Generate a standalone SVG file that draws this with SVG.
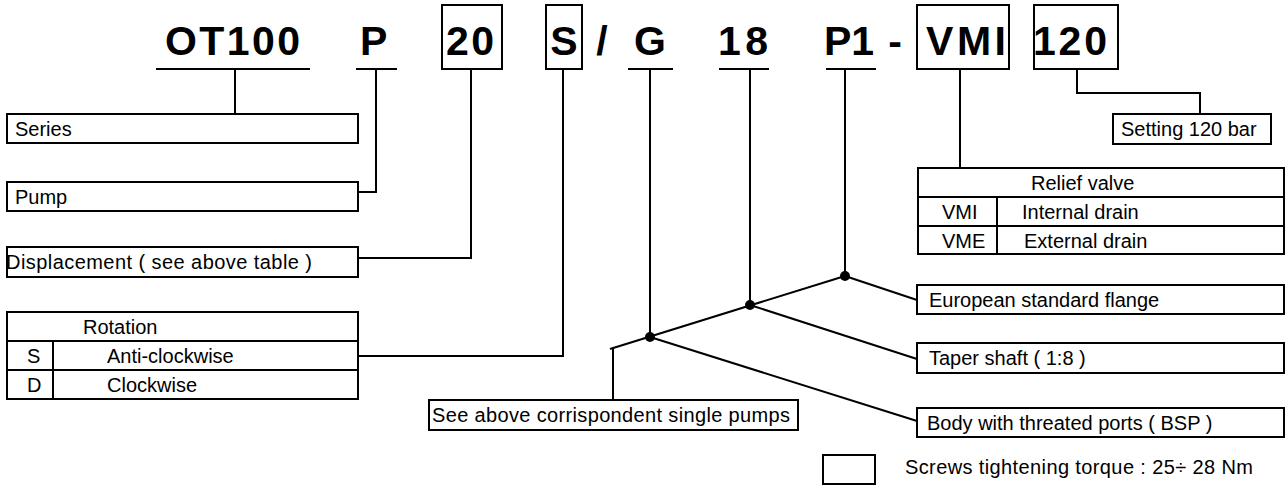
<svg xmlns="http://www.w3.org/2000/svg" width="1287" height="486" viewBox="0 0 1287 486">
<style>
.b{fill:#fff;stroke:#000;stroke-width:2}
.l{fill:none;stroke:#000;stroke-width:2}
.code{font-family:"Liberation Sans",Arial,sans-serif;font-weight:bold;font-size:41px;fill:#000}
.t{font-family:"Liberation Sans",Arial,sans-serif;font-size:20px;fill:#000}
.dot{fill:#000}
</style>
<rect width="1287" height="486" fill="#fff"/>
<g id="code">
<text class="code" x="165" y="55" textLength="135" lengthAdjust="spacing">OT100</text>
<text class="code" x="360" y="55">P</text>
<rect class="b" x="442" y="5" width="60" height="64"/>
<text class="code" x="446" y="55" textLength="48" lengthAdjust="spacing">20</text>
<rect class="b" x="546" y="5" width="36" height="64"/>
<text class="code" x="564" y="55" text-anchor="middle">S</text>
<text class="code" x="602" y="55" text-anchor="middle">/</text>
<text class="code" x="650" y="55" text-anchor="middle">G</text>
<text class="code" x="718" y="55" textLength="50" lengthAdjust="spacing">18</text>
<text class="code" x="824" y="55">P1</text>
<text class="code" x="895" y="55" text-anchor="middle">-</text>
<rect class="b" x="917" y="5" width="92" height="64"/>
<text class="code" x="926" y="55" textLength="80" lengthAdjust="spacing">VMI</text>
<rect class="b" x="1034" y="5" width="84" height="64"/>
<text class="code" x="1033" y="55" textLength="74" lengthAdjust="spacing">120</text>
</g>
<g id="connectors">
<path class="l" d="M156,69 H310 M356,69 H397 M628,69 H673 M719,69 H769 M826,69 H876"/>
<path class="l" d="M235,69 V114"/>
<path class="l" d="M376,69 V192 H358"/>
<path class="l" d="M471,69 V258 H358"/>
<path class="l" d="M563,69 V356 H358"/>
<path class="l" d="M650,69 V337"/>
<path class="l" d="M750,69 V305"/>
<path class="l" d="M845,69 V276"/>
<path class="l" d="M960,69 V168"/>
<path class="l" d="M1077,69 V93 H1200 V114"/>
<path class="l" d="M610,349 L845,276"/>
<path class="l" d="M613,349 V400"/>
<path class="l" d="M845,276 L917,300 M750,305 L917,359 M650,337 L917,421"/>
<circle class="dot" cx="650" cy="337" r="5"/>
<circle class="dot" cx="750" cy="305" r="5"/>
<circle class="dot" cx="845" cy="276" r="5"/>
</g>
<g id="series">
<rect class="b" x="7" y="114" width="351" height="29"/>
<text class="t" x="15" y="136">Series</text>
</g>
<g id="pump">
<rect class="b" x="7" y="182" width="351" height="29"/>
<text class="t" x="15" y="204">Pump</text>
</g>
<g id="displacement">
<rect class="b" x="7" y="247" width="351" height="30"/>
<text class="t" x="6" y="269" textLength="306" lengthAdjust="spacing">Displacement ( see above table )</text>
</g>
<g id="rotation">
<rect class="b" x="7" y="312" width="351" height="87"/>
<path class="l" d="M7,341 H358 M7,370 H358 M53,341 V399"/>
<text class="t" x="83" y="334">Rotation</text>
<text class="t" x="27" y="363">S</text>
<text class="t" x="107" y="363">Anti-clockwise</text>
<text class="t" x="27" y="392">D</text>
<text class="t" x="107" y="392">Clockwise</text>
</g>
<g id="setting">
<rect class="b" x="1113" y="114" width="158" height="30"/>
<text class="t" x="1121" y="136">Setting 120 bar</text>
</g>
<g id="relief">
<rect class="b" x="918" y="168" width="366" height="86"/>
<path class="l" d="M918,197 H1284 M918,226 H1284 M997,197 V254"/>
<text class="t" x="1031" y="190">Relief valve</text>
<text class="t" x="942" y="219">VMI</text>
<text class="t" x="1022" y="219">Internal drain</text>
<text class="t" x="942" y="248">VME</text>
<text class="t" x="1024" y="248">External drain</text>
</g>
<g id="flange">
<rect class="b" x="917" y="285" width="367" height="29"/>
<text class="t" x="929" y="307">European standard flange</text>
</g>
<g id="shaft">
<rect class="b" x="917" y="343" width="367" height="30"/>
<text class="t" x="929" y="365">Taper shaft ( 1:8 )</text>
</g>
<g id="body">
<rect class="b" x="917" y="408" width="367" height="29"/>
<text class="t" x="927" y="430">Body with threated ports ( BSP )</text>
</g>
<g id="single">
<rect class="b" x="429" y="400" width="369" height="30"/>
<text class="t" x="432" y="422" textLength="358" lengthAdjust="spacing">See above corrispondent single pumps</text>
</g>
<g id="torque">
<rect class="b" x="823" y="455" width="52" height="29"/>
<text class="t" x="905" y="474" textLength="348" lengthAdjust="spacing">Screws tightening torque : 25÷ 28 Nm</text>
</g>
</svg>
